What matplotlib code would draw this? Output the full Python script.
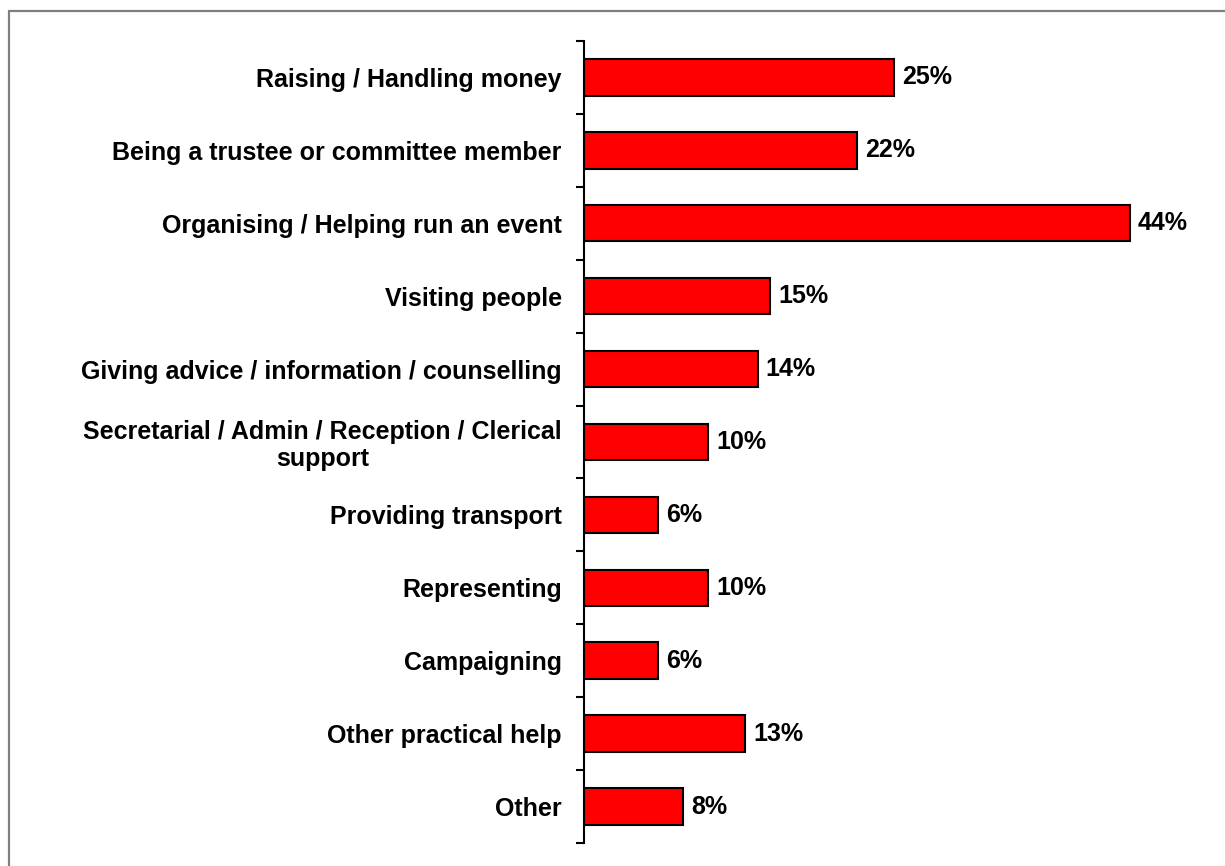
import matplotlib
matplotlib.use("Agg")
import matplotlib.pyplot as plt
from matplotlib.patches import Rectangle
import numpy as np

plt.rcParams['font.family'] = ['Liberation Sans', 'DejaVu Sans']

categories = [
    "Raising / Handling money",
    "Being a trustee or committee member",
    "Organising / Helping run an event",
    "Visiting people",
    "Giving advice / information / counselling",
    "Secretarial / Admin / Reception / Clerical\nsupport",
    "Providing transport",
    "Representing",
    "Campaigning",
    "Other practical help",
    "Other",
]
values = [25, 22, 44, 15, 14, 10, 6, 10, 6, 13, 8]

fig = plt.figure(figsize=(12.25, 8.66), dpi=100)
ax = fig.add_axes([584/1225, 1 - 843/866, (1204 - 584)/1225, (843 - 41)/866])

y = np.arange(len(categories))
ax.barh(y, values, height=0.5, color='#ff0000', edgecolor='black', linewidth=1.5)

for yi, v in zip(y, values):
    ax.text(v + 0.65, yi, f"{v}%", va='center', ha='left',
            fontsize=18, fontweight='bold')

ax.set_ylim(len(categories) - 0.5, -0.5)
ax.set_xlim(0, 50)

ax.set_yticks(y)
ax.set_yticklabels(categories, fontsize=18, fontweight='bold',
                   multialignment='center', linespacing=1.15)
ax.set_yticks(np.arange(len(categories) + 1) - 0.5, minor=True)
ax.tick_params(axis='y', which='major', length=0, pad=16)
ax.tick_params(axis='y', which='minor', length=6, width=1.5, direction='out')
ax.set_xticks([])

for s in ['top', 'right', 'bottom']:
    ax.spines[s].set_visible(False)
ax.spines['left'].set_linewidth(1.5)

# grey frame around the chart area (runs off the right and bottom edge)
fig.add_artist(Rectangle((9/1225, -0.05), 1.1, 1 - 10.5/866 + 0.05,
                         transform=fig.transFigure, fill=False,
                         edgecolor='#808080', linewidth=1.6))

fig.savefig("out.png", dpi=100)
